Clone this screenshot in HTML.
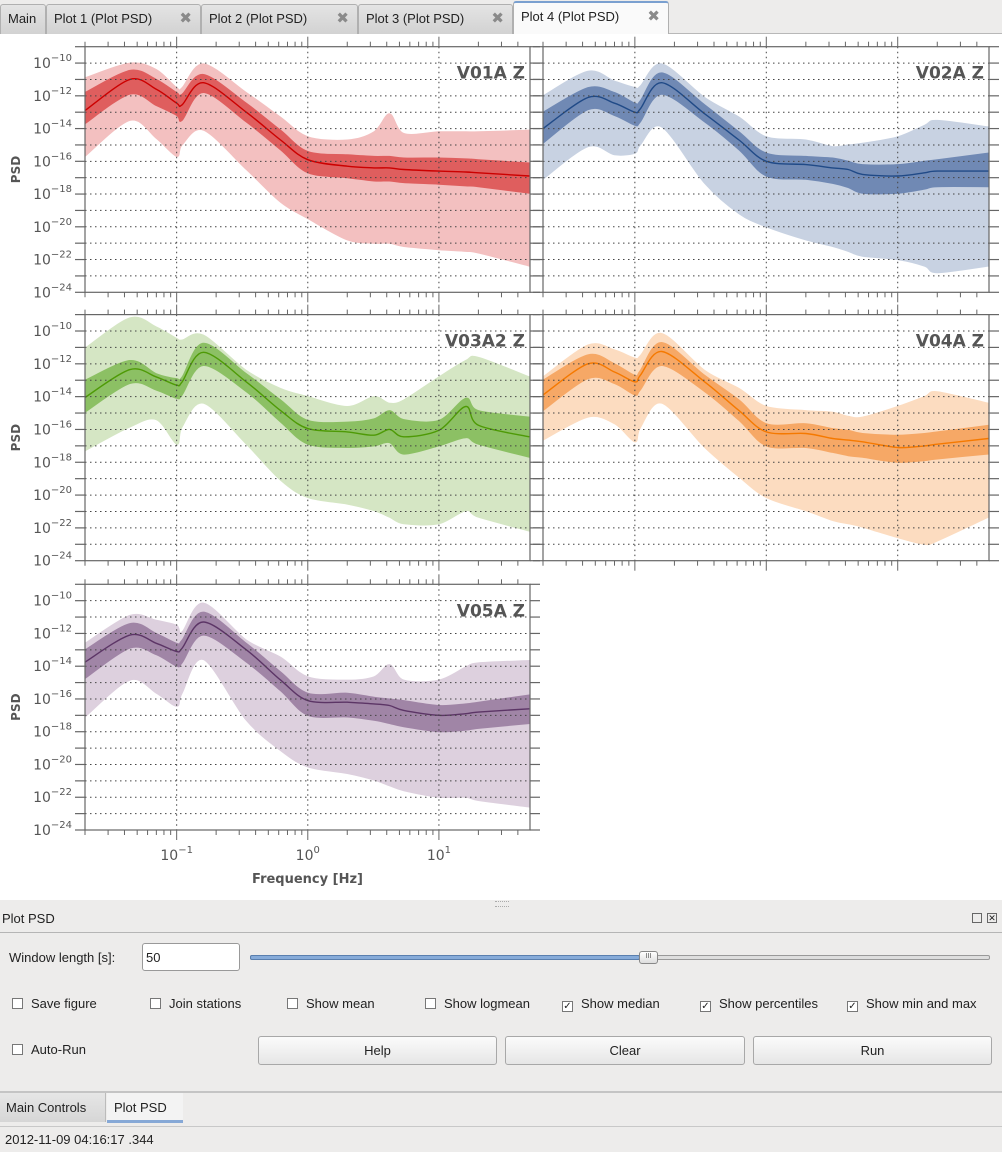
<!DOCTYPE html>
<html><head><meta charset="utf-8">
<style>
*{box-sizing:border-box;margin:0;padding:0}
body{width:1002px;height:1152px;overflow:hidden;background:#fff;font-family:"Liberation Sans","DejaVu Sans",sans-serif;font-size:13px;color:#222;position:relative}
.abs{position:absolute}
.tabbar{left:0;top:0;width:1002px;height:34px;background:#edeceb;border-bottom:1px solid #b8b8b8}
.tab{position:absolute;top:4px;height:30px;border:1px solid #b0b0b0;border-bottom:none;border-radius:3px 3px 0 0;background:linear-gradient(#e4e4e4,#d2d2d2);font-size:13px;line-height:28px;padding-left:7px;color:#222}
.tab .x{position:absolute;right:8px;top:0;color:#8a8a8a;font-weight:bold;font-size:15px}
.tab.sel{top:1px;height:33px;background:#fafafa;border-top:2px solid #7aa0d0}
.panel{left:0;top:900px;width:1002px;height:252px;background:#edeceb}
.cb{position:absolute;font-size:13px;line-height:16px}
.cb i{display:inline-block;width:11px;height:11px;border:1px solid #777;background:#fff;vertical-align:-1px;margin-right:8px;font-style:normal;font-size:10px;line-height:9px;text-align:center}
.btn{position:absolute;top:1036px;height:29px;border:1px solid #a8a8a8;border-radius:3px;background:linear-gradient(#fbfbfb,#e6e6e6);text-align:center;line-height:28px;font-size:13px}
</style></head><body>

<div class="abs tabbar">
  <div class="tab" style="left:0;width:46px">Main</div>
  <div class="tab" style="left:46px;width:155px">Plot 1 (Plot PSD)<span class="x">✖</span></div>
  <div class="tab" style="left:201px;width:157px">Plot 2 (Plot PSD)<span class="x">✖</span></div>
  <div class="tab" style="left:358px;width:155px">Plot 3 (Plot PSD)<span class="x">✖</span></div>
  <div class="tab sel" style="left:513px;width:156px">Plot 4 (Plot PSD)<span class="x">✖</span></div>
</div>

<svg id="chart" class="abs" style="left:0;top:34px" width="1002" height="866" viewBox="0 34 1002 866"></svg>

<div class="abs panel">
  <div class="abs" style="left:495px;top:1px;width:14px;height:6px;border-top:1px dotted #aaa;border-bottom:1px dotted #aaa"></div>
  <div class="abs" style="left:2px;top:11px;font-size:13px">Plot PSD</div>
  <div class="abs" style="left:972px;top:13px;width:10px;height:10px;border:1px solid #666;font-size:7px"></div>
  <div class="abs" style="left:987px;top:13px;width:10px;height:10px;border:1px solid #666;font-size:9px;line-height:8px;text-align:center">✕</div>
  <div class="abs" style="left:0;top:32px;width:1002px;height:1px;background:#b5b5b5"></div>
  <div class="abs" style="left:9px;top:50px">Window length [s]:</div>
  <div class="abs" style="left:142px;top:43px;width:98px;height:28px;border:1px solid #999;border-radius:3px;background:#fff;padding:6px 3px">50</div>
  <div class="abs" style="left:250px;top:55px;width:740px;height:5px;border:1px solid #999;border-radius:2px;background:#dedede"></div>
  <div class="abs" style="left:250px;top:55px;width:390px;height:5px;border:1px solid #5a7fae;border-radius:2px;background:#86abd9"></div>
  <div class="abs" style="left:639px;top:51px;width:19px;height:13px;border:1px solid #888;border-radius:3px;background:linear-gradient(#fff,#ddd);font-size:7px;line-height:10px;text-align:center;color:#555">III</div>
  <div class="cb" style="left:12px;top:96px"><i></i>Save figure</div>
  <div class="cb" style="left:150px;top:96px"><i></i>Join stations</div>
  <div class="cb" style="left:287px;top:96px"><i></i>Show mean</div>
  <div class="cb" style="left:425px;top:96px"><i></i>Show logmean</div>
  <div class="cb" style="left:562px;top:96px"><i>✓</i>Show median</div>
  <div class="cb" style="left:700px;top:96px"><i>✓</i>Show percentiles</div>
  <div class="cb" style="left:847px;top:96px"><i>✓</i>Show min and max</div>
  <div class="cb" style="left:12px;top:142px"><i></i>Auto-Run</div>
  <div class="abs" style="left:0;top:191px;width:1002px;height:2px;background:#c4c4c4"></div>
  <div class="abs" style="left:0;top:193px;width:106px;height:29px;background:linear-gradient(#e6e6e6,#d6d6d6);border-right:1px solid #bbb;padding:7px 6px">Main Controls</div>
  <div class="abs" style="left:107px;top:193px;width:76px;height:30px;background:#f3f3f3;border-bottom:3px solid #86a8d6;padding:7px 7px">Plot PSD</div>
  <div class="abs" style="left:0;top:226px;width:1002px;height:1px;background:#c8c8c8"></div>
  <div class="abs" style="left:5px;top:232px">2012-11-09 04:16:17 .344</div>
</div>
<div class="btn" style="left:258px;width:239px">Help</div>
<div class="btn" style="left:505px;width:240px">Clear</div>
<div class="btn" style="left:753px;width:239px">Run</div>

<script>
// shared frequency grid (Hz)
const freqs = [0.02,0.044,0.07,0.1,0.11,0.16,0.34,0.62,1.0,2.0,3.2,4.2,5.4,10,16,20,49];
// values are log10(PSD)
const v01aMedian = [-12.9,-11.0,-11.6,-12.45,-12.55,-11.2,-13.0,-14.7,-15.9,-16.3,-16.4,-16.4,-16.5,-16.6,-16.65,-16.7,-16.9];
const v01aUpper  = [-11.8,-10.45,-11.0,-11.8,-11.9,-10.7,-12.45,-14.1,-15.4,-15.6,-15.7,-15.7,-15.8,-15.8,-15.85,-15.9,-16.1];
const v01aLower  = [-13.7,-11.9,-12.6,-13.2,-13.5,-11.8,-13.6,-15.3,-16.7,-17.0,-17.2,-17.2,-17.3,-17.4,-17.5,-17.55,-17.95];
const v01aMax    = [-10.9,-10.0,-10.4,-11.5,-11.5,-10.05,-11.8,-13.3,-14.5,-14.7,-14.2,-13.1,-14.3,-14.2,-14.2,-14.2,-14.1];
const v01aMin    = [-15.7,-13.5,-14.6,-15.7,-15.0,-14.1,-16.5,-18.5,-19.5,-20.8,-21.0,-21.0,-21.2,-21.4,-21.5,-21.6,-22.4];

const v02aMedian = [-14.0,-12.1,-12.45,-13.0,-12.8,-11.2,-13.1,-14.7,-16.0,-16.2,-16.4,-16.5,-16.8,-16.9,-16.7,-16.6,-16.6];
const v02aUpper  = [-13.0,-11.5,-11.8,-12.45,-12.3,-10.6,-12.55,-14.2,-15.5,-15.7,-15.8,-16.0,-16.2,-16.2,-16.0,-15.9,-15.5];
const v02aLower  = [-14.9,-12.85,-13.2,-13.8,-13.6,-11.9,-13.6,-15.3,-16.9,-17.1,-17.35,-17.6,-17.95,-17.95,-17.7,-17.55,-17.55];
const v02aMax    = [-12.0,-10.5,-11.1,-11.5,-11.4,-10.05,-12.1,-13.3,-14.5,-14.7,-15.1,-15.0,-14.9,-14.5,-13.8,-13.5,-13.9];
const v02aMin    = [-17.1,-15.1,-15.6,-15.5,-15.0,-13.9,-17.35,-19.2,-20.0,-20.8,-21.2,-21.5,-21.8,-22.0,-22.4,-22.8,-22.4];

const v03a2Median = [-14.05,-12.35,-12.8,-13.3,-13.1,-11.3,-13.1,-14.85,-15.95,-16.15,-16.35,-16.0,-16.45,-16.05,-14.6,-15.75,-16.45];
const v03a2Upper  = [-13.0,-11.8,-12.6,-12.9,-12.8,-10.75,-12.6,-14.2,-15.45,-15.55,-15.35,-14.85,-15.4,-15.45,-14.1,-14.85,-15.25];
const v03a2Lower  = [-14.95,-13.2,-13.6,-14.1,-13.9,-12.1,-13.7,-15.55,-16.9,-17.1,-17.0,-16.8,-17.5,-17.0,-16.5,-16.9,-17.7];
const v03a2Max    = [-11.05,-9.2,-9.75,-10.45,-10.55,-10.25,-12.4,-13.5,-14.0,-14.6,-14.0,-14.4,-14.2,-12.8,-11.8,-11.6,-12.8];
const v03a2Min    = [-17.3,-15.85,-15.4,-16.9,-15.85,-14.4,-16.9,-19.1,-20.15,-20.55,-20.95,-21.35,-21.75,-21.75,-20.95,-21.35,-22.2];

const v04aMedian = [-13.9,-12.0,-12.5,-13.1,-12.7,-11.25,-13.1,-14.85,-16.15,-16.25,-16.55,-16.65,-16.75,-17.1,-17.0,-16.9,-16.55];
const v04aUpper  = [-13.0,-11.45,-12.0,-12.7,-12.4,-10.7,-12.7,-14.2,-15.65,-15.65,-15.95,-16.05,-16.25,-16.35,-16.25,-16.15,-15.75];
const v04aLower  = [-14.85,-12.9,-13.2,-13.9,-13.6,-12.1,-13.7,-15.45,-17.0,-17.1,-17.4,-17.6,-17.7,-18.0,-17.9,-17.8,-17.5];
const v04aMax    = [-12.8,-10.85,-11.15,-11.65,-11.5,-10.15,-12.4,-13.5,-14.6,-14.85,-14.95,-15.2,-15.25,-14.6,-14.0,-13.7,-14.4];
const v04aMin    = [-16.65,-15.25,-15.65,-16.75,-15.9,-14.4,-17.1,-18.9,-20.15,-20.95,-21.55,-21.75,-21.95,-22.6,-23.0,-22.8,-21.35];

const v05aMedian = [-13.75,-12.1,-12.6,-13.1,-12.9,-11.3,-13.0,-14.85,-16.1,-16.2,-16.3,-16.4,-16.7,-17.0,-16.9,-16.8,-16.6];
const v05aUpper  = [-13.0,-11.4,-12.0,-12.6,-12.4,-10.7,-12.6,-14.35,-15.65,-15.65,-15.9,-16.0,-16.1,-16.4,-16.3,-16.2,-15.75];
const v05aLower  = [-14.75,-12.9,-13.3,-14.0,-13.8,-12.1,-13.75,-15.5,-17.0,-17.1,-17.3,-17.5,-17.7,-18.0,-17.9,-17.8,-17.5];
const v05aMax    = [-12.6,-10.9,-11.2,-11.5,-11.9,-10.15,-12.4,-13.45,-14.65,-14.85,-14.65,-13.9,-14.85,-14.85,-14.05,-13.8,-13.65];
const v05aMin    = [-17.1,-14.85,-15.65,-16.45,-15.65,-13.6,-17.3,-19.15,-20.15,-20.55,-20.95,-21.3,-21.6,-22.0,-22.0,-22.2,-22.6];

const yTickExps = [-24,-22,-20,-18,-16,-14,-12,-10];
const xTickExps = [-1,0,1];

const NS = 'http://www.w3.org/2000/svg';
const svg = document.getElementById('chart');
function el(tag, attrs, parent){const e=document.createElementNS(NS,tag);for(const k in attrs)e.setAttribute(k,attrs[k]);(parent||svg).appendChild(e);return e;}

// smooth path through points (Catmull-Rom -> cubic Bezier)
function smooth(pts, start){
  let d = (start?'M':'L') + pts[0][0].toFixed(1)+','+pts[0][1].toFixed(1);
  for(let i=0;i<pts.length-1;i++){
    const p0=pts[Math.max(0,i-1)], p1=pts[i], p2=pts[i+1], p3=pts[Math.min(pts.length-1,i+2)];
    const t=0.16;
    const c1=[p1[0]+(p2[0]-p0[0])*t, p1[1]+(p2[1]-p0[1])*t];
    const c2=[p2[0]-(p3[0]-p1[0])*t, p2[1]-(p3[1]-p1[1])*t];
    d += 'C'+c1[0].toFixed(1)+','+c1[1].toFixed(1)+' '+c2[0].toFixed(1)+','+c2[1].toFixed(1)+' '+p2[0].toFixed(1)+','+p2[1].toFixed(1);
  }
  return d;
}

const panels = [
  {name:'v01a', title:'V01A  Z', l:85, r:530, t:46.7, b:292.3, med:v01aMedian, up:v01aUpper, lo:v01aLower, mx:v01aMax, mn:v01aMin, line:'#cc0000', dark:'#df5e5e', light:'#f3c0c0', xl:false, yl:true},
  {name:'v02a', title:'V02A  Z', l:543, r:989, t:46.7, b:292.3, med:v02aMedian, up:v02aUpper, lo:v02aLower, mx:v02aMax, mn:v02aMin, line:'#204a87', dark:'#7089b4', light:'#c8d2e2', xl:false, yl:false},
  {name:'v03a2', title:'V03A2  Z', l:85, r:530, t:314.6, b:560.7, med:v03a2Median, up:v03a2Upper, lo:v03a2Lower, mx:v03a2Max, mn:v03a2Min, line:'#4e9a06', dark:'#8cc064', light:'#d5e6c4', xl:false, yl:true},
  {name:'v04a', title:'V04A  Z', l:543, r:989, t:314.6, b:560.7, med:v04aMedian, up:v04aUpper, lo:v04aLower, mx:v04aMax, mn:v04aMin, line:'#f57900', dark:'#f6a866', light:'#fcdcc0', xl:false, yl:false},
  {name:'v05a', title:'V05A  Z', l:85, r:530, t:584.3, b:830, med:v05aMedian, up:v05aUpper, lo:v05aLower, mx:v05aMax, mn:v05aMin, line:'#5c3566', dark:'#a085a6', light:'#ddd0de', xl:true, yl:true}
];
const FMIN = Math.log10(0.02), FMAX = Math.log10(49.5), YMIN=-24, YMAX=-9;

panels.forEach(p=>{
  const g = el('g',{});
  
  
  const X = f => p.l + (Math.log10(f)-FMIN)/(FMAX-FMIN)*(p.r-p.l);
  const Y = v => p.b - (v-YMIN)/(YMAX-YMIN)*(p.b-p.t);
  const pts = arr => freqs.map((f,i)=>[X(f), Y(arr[i])]);
  const band = (hi, lo) => smooth(pts(hi), true) + smooth(pts(lo).reverse(), false) + 'Z';
  const mm = el('path',{d:band(p.mx,p.mn), fill:p.light, stroke:p.light, 'stroke-width':1}, g);
  
  
  const pc = el('path',{d:band(p.up,p.lo), fill:p.dark, stroke:p.dark, 'stroke-width':1}, g);
  
  
  const ml = el('path',{d:smooth(pts(p.med), true), fill:'none', stroke:p.line, 'stroke-width':1.4}, g);
  
  
  for(let e=-23;e<=-10;e++){
    const gl = el('line',{x1:p.l,x2:p.r,y1:Y(e),y2:Y(e),stroke:'#444','stroke-width':1,'stroke-dasharray':'1.5,3.5'}, g);
    
    
  }
  xTickExps.forEach(e=>{
    const gl = el('line',{x1:X(Math.pow(10,e)),x2:X(Math.pow(10,e)),y1:p.t,y2:p.b,stroke:'#444','stroke-width':1,'stroke-dasharray':'1.5,3.5'}, g);
    
    
  });
  const fr = el('rect',{x:p.l,y:p.t,width:p.r-p.l,height:p.b-p.t,fill:'none',stroke:'#666','stroke-width':1.2}, g);
  
  
  for(let e=-24;e<=-9;e++){
    el('line',{x1:p.l-10,x2:p.l,y1:Y(e),y2:Y(e),stroke:'#666','stroke-width':1.2}, g);
    el('line',{x1:p.r,x2:p.r+10,y1:Y(e),y2:Y(e),stroke:'#666','stroke-width':1.2}, g);
  }
  for(let e=-2;e<=1;e++){
    for(let m=1;m<=9;m++){
      const f=m*Math.pow(10,e); const lf=Math.log10(f);
      if(lf<FMIN-1e-6||lf>FMAX) continue;
      const len = m===1?10:5; const x=X(f);
      el('line',{x1:x,x2:x,y1:p.t-len,y2:p.t,stroke:'#666','stroke-width':1}, g);
      el('line',{x1:x,x2:x,y1:p.b,y2:p.b+len,stroke:'#666','stroke-width':1}, g);
    }
  }
  if(p.yl){
    yTickExps.forEach(e=>{
      const t = el('text',{x:p.l-13,y:Y(e)+5,'text-anchor':'end','font-size':14,fill:'#555','font-family':'DejaVu Sans, Liberation Sans, sans-serif'}, g);
      
      
      t.innerHTML = '10<tspan dy="-7" font-size="10">' + (e<0?'\u2212':'') + Math.abs(e) + '</tspan>';
    });
    const yt = el('text',{x:0,y:0,transform:'translate(20,'+((p.t+p.b)/2)+') rotate(-90)','text-anchor':'middle','font-size':12,'font-weight':'bold',fill:'#555','font-family':'DejaVu Sans, sans-serif'}, g);
    
    
    yt.textContent = 'PSD';
  }
  const tt = el('text',{x:p.r-5,y:p.t+32,'text-anchor':'end','font-size':17,'font-weight':'bold',fill:'#555','font-family':'DejaVu Sans, sans-serif'}, g);
  
  
  tt.textContent = p.title;
  if(p.xl){
    xTickExps.forEach(e=>{
      const t = el('text',{x:X(Math.pow(10,e)),y:p.b+30,'text-anchor':'middle','font-size':14,fill:'#555','font-family':'DejaVu Sans, sans-serif'}, g);
      
      
      t.innerHTML = '10<tspan dy="-7" font-size="10">' + (e<0?'\u2212':'') + Math.abs(e) + '</tspan>';
    });
    const xt = el('text',{x:(p.l+p.r)/2,y:p.b+53,'text-anchor':'middle','font-size':13,'font-weight':'bold',fill:'#555','font-family':'DejaVu Sans, sans-serif'}, g);
    
    
    xt.textContent = 'Frequency [Hz]';
  }
});
</script>
</body></html>
